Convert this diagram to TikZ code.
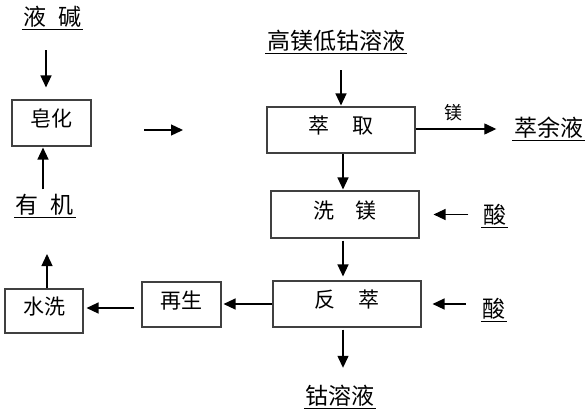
\documentclass[tikz,border=0pt]{standalone}
\usepackage{fontspec}
\setmainfont{Noto Sans CJK SC}
\newfontfamily\cjk{Noto Sans CJK SC}
\usetikzlibrary{arrows.meta}
\begin{document}
\begin{tikzpicture}[x=1pt,y=-1pt,
  box/.style={draw=black!75, line width=1.1pt, inner sep=0pt, font=\cjk\fontsize{21pt}{25pt}\selectfont, text height=0.85em, text depth=0.11em},
  lab/.style={inner ysep=0pt, inner xsep=1.5pt, anchor=base, font=\cjk\fontsize{23pt}{27pt}\selectfont, text height=19pt, text depth=3.5pt,
    append after command={(\tikzlastnode.south west) edge[line width=1.3pt, -] (\tikzlastnode.south east)}},
  small/.style={inner sep=0pt, font=\cjk\fontsize{18pt}{21pt}\selectfont},
  arr/.style={line width=1.3pt, -{Triangle[length=12pt,width=11pt]}}
]
\useasboundingbox (0,0) rectangle (588,415);
% labels
\node[lab] (yj) at (52.5,25.5) {液\hspace{12pt}碱};
\node[lab] (yl) at (45,213.5) {有\hspace{12pt}机};
\node[lab] (gm) at (336,49.5) {高镁低钴溶液};
\node[lab] (cy) at (548.5,136.5) {萃余液};
\node[lab] (s1) at (494.5,223.5) {酸};
\node[lab] (s2) at (494,317.5) {酸};
\node[lab] (gy) at (340,404.5) {钴溶液};
\node[small] (mg) at (453,113) {镁};
% boxes
\node[box, minimum width=79pt, minimum height=46pt] (zh) at (51.5,123) {皂化};
\node[box, minimum width=148pt, minimum height=46pt] (cq) at (341,130) {萃\hspace{23pt}取};
\node[box, minimum width=148pt, minimum height=47pt] (xm) at (345,214.5) {洗\hspace{21pt}镁};
\node[box, minimum width=148pt, minimum height=46pt] (fc) at (347,304) {反\hspace{23pt}萃};
\node[box, minimum width=79pt, minimum height=45pt] (zs) at (181.5,304.5) {再生};
\node[box, minimum width=78pt, minimum height=44pt] (sx) at (44,311) {水洗};
\coordinate (f1) at (144,130);
\coordinate (f2) at (183,130);
\coordinate (up) at (47,254);
% connectors
\draw[arr, shorten <=21pt, shorten >=12pt] ([xshift=-6.5pt]yj.south) -- ([xshift=-6.5pt]yj.south |- zh.north);
\draw[arr, shorten <=5pt, shorten >=1pt] ([xshift=-2pt]yl.north |- yl.north) -- ([xshift=-2pt]yl.north |- zh.south);
\draw[arr] (f1) -- (f2);
\draw[arr, shorten <=17pt, shorten >=1pt] (gm.south -| cq.north) -- (cq.north);
\draw[arr, shorten >=16pt] ([yshift=1pt]cq.east) -- ([yshift=1pt]cq.east -| cy.west);
\draw[arr, shorten >=1pt] ([xshift=2pt]cq.south) -- ([xshift=2pt]cq.south |- xm.north);
\draw[arr, shorten <=13pt, shorten >=14pt] (xm.east -| s1.west) -- (xm.east);
\draw[arr, shorten <=2pt, shorten >=4pt] ([xshift=-2pt]xm.south) -- ([xshift=-2pt]xm.south |- fc.north);
\draw[arr, shorten <=15pt, shorten >=11pt] (fc.east -| s2.west) -- (fc.east);
\draw[arr, shorten >=2pt] (fc.west) -- (fc.west -| zs.east);
\draw[arr, shorten <=7pt, shorten >=3pt] ([yshift=-3.5pt]zs.west) -- ([yshift=-3.5pt]zs.west -| sx.east);
\draw[arr] ([xshift=3pt]sx.north) -- (up);
\draw[arr, shorten <=2pt, shorten >=17.5pt] ([xshift=-4pt]fc.south) -- ([xshift=-4pt]fc.south |- gy.north);
\end{tikzpicture}
\end{document}
